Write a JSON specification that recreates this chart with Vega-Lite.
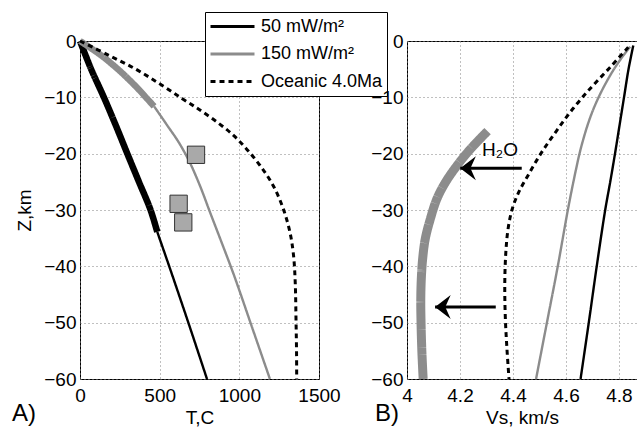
{
  "$schema": "https://vega.github.io/schema/vega-lite/v6.json",
  "padding": {"left": 11, "top": 11, "right": 0, "bottom": 0},
  "bounds": "flush",
  "spacing": 88,
  "config": {
    "font": "Liberation Sans",
    "view": {"stroke": "black", "strokeWidth": 1},
    "axis": {
      "domain": false, "ticks": false, "grid": true,
      "gridDash": [1, 3], "gridColor": "#808080", "gridWidth": 1,
      "labelFont": "Liberation Sans", "labelFontSize": 19, "labelColor": "black",
      "titleFont": "Liberation Sans", "titleFontSize": 19, "titleFontWeight": "normal", "titleColor": "black",
      "labelFlush": false, "labelOverlap": false
    },
    "axisX": {"labelPadding": 7, "titlePadding": 3},
    "axisY": {"labelPadding": 4, "titlePadding": 9},
    "title": {"font": "Liberation Sans", "fontSize": 24, "fontWeight": "normal", "color": "black"}
  },
  "datasets": {
    "linesA": [
      {"series": "50 mW/m²", "part": "thick", "T": 0, "z": 0, "i": 0},
      {"series": "50 mW/m²", "part": "thick", "T": 70, "z": -5, "i": 1},
      {"series": "50 mW/m²", "part": "thick", "T": 150, "z": -10, "i": 2},
      {"series": "50 mW/m²", "part": "thick", "T": 225, "z": -15, "i": 3},
      {"series": "50 mW/m²", "part": "thick", "T": 297, "z": -20, "i": 4},
      {"series": "50 mW/m²", "part": "thick", "T": 370, "z": -25, "i": 5},
      {"series": "50 mW/m²", "part": "thick", "T": 443, "z": -30, "i": 6},
      {"series": "50 mW/m²", "part": "thick", "T": 485, "z": -33.9, "i": 7},
      {"series": "50 mW/m²", "part": "thin", "T": 485, "z": -33.9, "i": 8},
      {"series": "50 mW/m²", "part": "thin", "T": 560, "z": -40, "i": 9},
      {"series": "50 mW/m²", "part": "thin", "T": 680, "z": -50, "i": 10},
      {"series": "50 mW/m²", "part": "thin", "T": 797, "z": -60, "i": 11},
      {"series": "150 mW/m²", "part": "thick", "T": 0, "z": 0, "i": 0},
      {"series": "150 mW/m²", "part": "thick", "T": 70, "z": -1.3, "i": 1},
      {"series": "150 mW/m²", "part": "thick", "T": 140, "z": -2.7, "i": 2},
      {"series": "150 mW/m²", "part": "thick", "T": 205, "z": -4.2, "i": 3},
      {"series": "150 mW/m²", "part": "thick", "T": 265, "z": -5.7, "i": 4},
      {"series": "150 mW/m²", "part": "thick", "T": 320, "z": -7.2, "i": 5},
      {"series": "150 mW/m²", "part": "thick", "T": 372, "z": -8.7, "i": 6},
      {"series": "150 mW/m²", "part": "thick", "T": 420, "z": -10.2, "i": 7},
      {"series": "150 mW/m²", "part": "thick", "T": 465, "z": -11.6, "i": 8},
      {"series": "150 mW/m²", "part": "thin", "T": 465, "z": -11.6, "i": 9},
      {"series": "150 mW/m²", "part": "thin", "T": 548, "z": -15, "i": 10},
      {"series": "150 mW/m²", "part": "thin", "T": 620, "z": -18, "i": 11},
      {"series": "150 mW/m²", "part": "thin", "T": 688, "z": -21.5, "i": 12},
      {"series": "150 mW/m²", "part": "thin", "T": 753, "z": -25.7, "i": 13},
      {"series": "150 mW/m²", "part": "thin", "T": 816, "z": -30.4, "i": 14},
      {"series": "150 mW/m²", "part": "thin", "T": 888, "z": -35.7, "i": 15},
      {"series": "150 mW/m²", "part": "thin", "T": 968, "z": -41.7, "i": 16},
      {"series": "150 mW/m²", "part": "thin", "T": 1082, "z": -51, "i": 17},
      {"series": "150 mW/m²", "part": "thin", "T": 1192, "z": -60, "i": 18},
      {"series": "Oceanic 4.0Ma", "part": "dashed", "T": 0, "z": 0, "i": 0},
      {"series": "Oceanic 4.0Ma", "part": "dashed", "T": 185, "z": -2.6, "i": 1},
      {"series": "Oceanic 4.0Ma", "part": "dashed", "T": 350, "z": -5, "i": 2},
      {"series": "Oceanic 4.0Ma", "part": "dashed", "T": 500, "z": -7.6, "i": 3},
      {"series": "Oceanic 4.0Ma", "part": "dashed", "T": 640, "z": -10.2, "i": 4},
      {"series": "Oceanic 4.0Ma", "part": "dashed", "T": 755, "z": -12.3, "i": 5},
      {"series": "Oceanic 4.0Ma", "part": "dashed", "T": 870, "z": -14.6, "i": 6},
      {"series": "Oceanic 4.0Ma", "part": "dashed", "T": 965, "z": -16.8, "i": 7},
      {"series": "Oceanic 4.0Ma", "part": "dashed", "T": 1046, "z": -19.2, "i": 8},
      {"series": "Oceanic 4.0Ma", "part": "dashed", "T": 1130, "z": -22.1, "i": 9},
      {"series": "Oceanic 4.0Ma", "part": "dashed", "T": 1213, "z": -25.7, "i": 10},
      {"series": "Oceanic 4.0Ma", "part": "dashed", "T": 1276, "z": -29.8, "i": 11},
      {"series": "Oceanic 4.0Ma", "part": "dashed", "T": 1318, "z": -34, "i": 12},
      {"series": "Oceanic 4.0Ma", "part": "dashed", "T": 1340, "z": -38, "i": 13},
      {"series": "Oceanic 4.0Ma", "part": "dashed", "T": 1351, "z": -43, "i": 14},
      {"series": "Oceanic 4.0Ma", "part": "dashed", "T": 1356, "z": -50, "i": 15},
      {"series": "Oceanic 4.0Ma", "part": "dashed", "T": 1359, "z": -55, "i": 16},
      {"series": "Oceanic 4.0Ma", "part": "dashed", "T": 1360, "z": -60, "i": 17}
    ],
    "squares": [
      {"T": 728, "z": -20.2},
      {"T": 619, "z": -28.9},
      {"T": 648, "z": -32.2}
    ],
    "linesB": [
      {"series": "50 mW/m²", "part": "thin", "Vs": 4.854, "z": -0.8, "i": 0},
      {"series": "50 mW/m²", "part": "thin", "Vs": 4.836, "z": -5, "i": 1},
      {"series": "50 mW/m²", "part": "thin", "Vs": 4.819, "z": -10, "i": 2},
      {"series": "50 mW/m²", "part": "thin", "Vs": 4.802, "z": -15, "i": 3},
      {"series": "50 mW/m²", "part": "thin", "Vs": 4.785, "z": -20, "i": 4},
      {"series": "50 mW/m²", "part": "thin", "Vs": 4.767, "z": -25, "i": 5},
      {"series": "50 mW/m²", "part": "thin", "Vs": 4.748, "z": -30, "i": 6},
      {"series": "50 mW/m²", "part": "thin", "Vs": 4.716, "z": -40, "i": 7},
      {"series": "50 mW/m²", "part": "thin", "Vs": 4.686, "z": -50, "i": 8},
      {"series": "50 mW/m²", "part": "thin", "Vs": 4.655, "z": -60, "i": 9},
      {"series": "150 mW/m²", "part": "thin", "Vs": 4.842, "z": -1, "i": 0},
      {"series": "150 mW/m²", "part": "thin", "Vs": 4.81, "z": -3, "i": 1},
      {"series": "150 mW/m²", "part": "thin", "Vs": 4.781, "z": -5, "i": 2},
      {"series": "150 mW/m²", "part": "thin", "Vs": 4.75, "z": -7.5, "i": 3},
      {"series": "150 mW/m²", "part": "thin", "Vs": 4.723, "z": -10, "i": 4},
      {"series": "150 mW/m²", "part": "thin", "Vs": 4.7, "z": -12.5, "i": 5},
      {"series": "150 mW/m²", "part": "thin", "Vs": 4.681, "z": -15, "i": 6},
      {"series": "150 mW/m²", "part": "thin", "Vs": 4.665, "z": -17.5, "i": 7},
      {"series": "150 mW/m²", "part": "thin", "Vs": 4.651, "z": -20, "i": 8},
      {"series": "150 mW/m²", "part": "thin", "Vs": 4.628, "z": -25, "i": 9},
      {"series": "150 mW/m²", "part": "thin", "Vs": 4.607, "z": -30, "i": 10},
      {"series": "150 mW/m²", "part": "thin", "Vs": 4.569, "z": -40, "i": 11},
      {"series": "150 mW/m²", "part": "thin", "Vs": 4.528, "z": -50, "i": 12},
      {"series": "150 mW/m²", "part": "thin", "Vs": 4.487, "z": -60, "i": 13},
      {"series": "150 mW/m²", "part": "hydrated", "Vs": 4.304, "z": -16, "i": 0},
      {"series": "150 mW/m²", "part": "hydrated", "Vs": 4.239, "z": -19.2, "i": 1},
      {"series": "150 mW/m²", "part": "hydrated", "Vs": 4.189, "z": -22.1, "i": 2},
      {"series": "150 mW/m²", "part": "hydrated", "Vs": 4.145, "z": -25.1, "i": 3},
      {"series": "150 mW/m²", "part": "hydrated", "Vs": 4.113, "z": -28, "i": 4},
      {"series": "150 mW/m²", "part": "hydrated", "Vs": 4.088, "z": -31.6, "i": 5},
      {"series": "150 mW/m²", "part": "hydrated", "Vs": 4.069, "z": -35.1, "i": 6},
      {"series": "150 mW/m²", "part": "hydrated", "Vs": 4.059, "z": -38.7, "i": 7},
      {"series": "150 mW/m²", "part": "hydrated", "Vs": 4.054, "z": -42.2, "i": 8},
      {"series": "150 mW/m²", "part": "hydrated", "Vs": 4.052, "z": -46, "i": 9},
      {"series": "150 mW/m²", "part": "hydrated", "Vs": 4.053, "z": -50, "i": 10},
      {"series": "150 mW/m²", "part": "hydrated", "Vs": 4.056, "z": -55, "i": 11},
      {"series": "150 mW/m²", "part": "hydrated", "Vs": 4.061, "z": -60, "i": 12},
      {"series": "Oceanic 4.0Ma", "part": "dashed", "Vs": 4.835, "z": -1.1, "i": 0},
      {"series": "Oceanic 4.0Ma", "part": "dashed", "Vs": 4.77, "z": -4.5, "i": 1},
      {"series": "Oceanic 4.0Ma", "part": "dashed", "Vs": 4.7, "z": -8, "i": 2},
      {"series": "Oceanic 4.0Ma", "part": "dashed", "Vs": 4.63, "z": -11.8, "i": 3},
      {"series": "Oceanic 4.0Ma", "part": "dashed", "Vs": 4.565, "z": -15.9, "i": 4},
      {"series": "Oceanic 4.0Ma", "part": "dashed", "Vs": 4.505, "z": -20, "i": 5},
      {"series": "Oceanic 4.0Ma", "part": "dashed", "Vs": 4.455, "z": -24, "i": 6},
      {"series": "Oceanic 4.0Ma", "part": "dashed", "Vs": 4.42, "z": -27, "i": 7},
      {"series": "Oceanic 4.0Ma", "part": "dashed", "Vs": 4.396, "z": -30, "i": 8},
      {"series": "Oceanic 4.0Ma", "part": "dashed", "Vs": 4.381, "z": -33.5, "i": 9},
      {"series": "Oceanic 4.0Ma", "part": "dashed", "Vs": 4.373, "z": -37.5, "i": 10},
      {"series": "Oceanic 4.0Ma", "part": "dashed", "Vs": 4.369, "z": -43, "i": 11},
      {"series": "Oceanic 4.0Ma", "part": "dashed", "Vs": 4.371, "z": -49, "i": 12},
      {"series": "Oceanic 4.0Ma", "part": "dashed", "Vs": 4.377, "z": -54.5, "i": 13},
      {"series": "Oceanic 4.0Ma", "part": "dashed", "Vs": 4.385, "z": -60, "i": 14}
    ],
    "arrows": [
      {"Vs": 4.433, "Vs2": 4.201, "z": -22.6},
      {"Vs": 4.335, "Vs2": 4.106, "z": -47.2}
    ],
    "label": [
      {"Vs": 4.351, "z": -20.4, "text": "H₂O"}
    ]
  },
  "resolve": {
    "scale": {"x": "independent", "y": "independent", "color": "independent", "strokeDash": "independent", "strokeWidth": "independent"},
    "legend": {"color": "independent", "strokeDash": "independent"}
  },
  "hconcat": [
    {
      "width": 239,
      "height": 338,
      "title": {"text": "A)", "orient": "bottom", "anchor": "start", "frame": "group", "dx": -68, "offset": -25},
      "layer": [
        {
          "data": {"name": "linesA"},
          "mark": {"type": "line", "strokeCap": "butt", "strokeJoin": "round", "interpolate": "catmull-rom"},
          "encoding": {
            "x": {"field": "T", "type": "quantitative", "scale": {"domain": [0, 1500], "nice": false}, "axis": {"values": [0, 500, 1000, 1500], "format": "d", "title": "T,C"}},
            "y": {"field": "z", "type": "quantitative", "scale": {"domain": [-60, 0], "nice": false}, "axis": {"values": [-60, -50, -40, -30, -20, -10, 0], "title": "Z,km"}},
            "color": {"field": "series", "type": "nominal", "scale": {"domain": ["50 mW/m²", "150 mW/m²", "Oceanic 4.0Ma"], "range": ["black", "#8c8c8c", "black"]},
              "legend": {"title": null, "orient": "none", "legendX": 125, "legendY": -29, "strokeColor": "black", "fillColor": "white", "padding": 4, "cornerRadius": 0, "symbolType": "stroke", "symbolSize": 1936, "symbolStrokeWidth": 3, "labelFontSize": 18, "labelFont": "Liberation Sans", "labelColor": "black", "labelOffset": 5, "clipHeight": 21, "rowPadding": 6.5, "labelLimit": 300}},
            "strokeDash": {"field": "series", "type": "nominal", "scale": {"domain": ["50 mW/m²", "150 mW/m²", "Oceanic 4.0Ma"], "range": [[1, 0], [1, 0], [5, 4]]},
              "legend": {"title": null, "orient": "none", "legendX": 125, "legendY": -29, "strokeColor": "black", "fillColor": "white", "padding": 4, "cornerRadius": 0, "symbolType": "stroke", "symbolSize": 1936, "symbolStrokeWidth": 3, "labelFontSize": 18, "labelFont": "Liberation Sans", "labelColor": "black", "labelOffset": 5, "clipHeight": 21, "rowPadding": 6.5, "labelLimit": 300}},
            "strokeWidth": {"field": "part", "type": "nominal", "scale": {"type": "ordinal", "domain": ["thin", "thick", "dashed", "hydrated"], "range": [2.4, 6.5, 3, 9]}, "legend": null},
            "detail": {"field": "part"},
            "order": {"field": "i", "type": "quantitative"}
          }
        },
        {
          "data": {"name": "squares"},
          "mark": {"type": "point", "shape": "square", "filled": true, "size": 300, "fill": "#a9a9a9", "stroke": "#333333", "strokeWidth": 1, "opacity": 1},
          "encoding": {
            "x": {"field": "T", "type": "quantitative"},
            "y": {"field": "z", "type": "quantitative"}
          }
        }
      ]
    },
    {
      "width": 230,
      "height": 338,
      "title": {"text": "B)", "orient": "bottom", "anchor": "start", "frame": "group", "dx": -32, "offset": -25},
      "layer": [
        {
          "data": {"name": "linesB"},
          "mark": {"type": "line", "strokeCap": "butt", "strokeJoin": "round", "interpolate": "catmull-rom", "clip": true},
          "encoding": {
            "x": {"field": "Vs", "type": "quantitative", "scale": {"domain": [4, 4.868], "nice": false, "zero": false}, "axis": {"values": [4, 4.2, 4.4, 4.6, 4.8], "format": "~g", "title": "Vs, km/s"}},
            "y": {"field": "z", "type": "quantitative", "scale": {"domain": [-60, 0], "nice": false}, "axis": {"values": [-60, -50, -40, -30, -20, -10, 0], "title": null}},
            "color": {"field": "series", "type": "nominal", "scale": {"domain": ["50 mW/m²", "150 mW/m²", "Oceanic 4.0Ma"], "range": ["black", "#8c8c8c", "black"]}, "legend": null},
            "strokeDash": {"field": "series", "type": "nominal", "scale": {"domain": ["50 mW/m²", "150 mW/m²", "Oceanic 4.0Ma"], "range": [[1, 0], [1, 0], [5, 4]]}, "legend": null},
            "strokeWidth": {"field": "part", "type": "nominal", "scale": {"type": "ordinal", "domain": ["thin", "thick", "dashed", "hydrated"], "range": [2.4, 6.5, 3, 9]}, "legend": null},
            "detail": {"field": "part"},
            "order": {"field": "i", "type": "quantitative"}
          }
        },
        {
          "data": {"name": "arrows"},
          "mark": {"type": "rule", "color": "black", "strokeWidth": 3},
          "encoding": {
            "x": {"field": "Vs", "type": "quantitative"},
            "x2": {"field": "Vs2"},
            "y": {"field": "z", "type": "quantitative"}
          }
        },
        {
          "data": {"name": "arrows"},
          "mark": {"type": "point", "shape": "M 0 0 L 1.3 -1 L 0.85 0 L 1.3 1 Z", "filled": true, "size": 576, "color": "black", "opacity": 1},
          "encoding": {
            "x": {"field": "Vs2", "type": "quantitative"},
            "y": {"field": "z", "type": "quantitative"}
          }
        },
        {
          "data": {"name": "label"},
          "mark": {"type": "text", "fontSize": 19, "font": "Liberation Sans", "align": "center", "baseline": "alphabetic", "color": "black"},
          "encoding": {
            "x": {"field": "Vs", "type": "quantitative"},
            "y": {"field": "z", "type": "quantitative"},
            "text": {"field": "text"}
          }
        }
      ]
    }
  ]
}
